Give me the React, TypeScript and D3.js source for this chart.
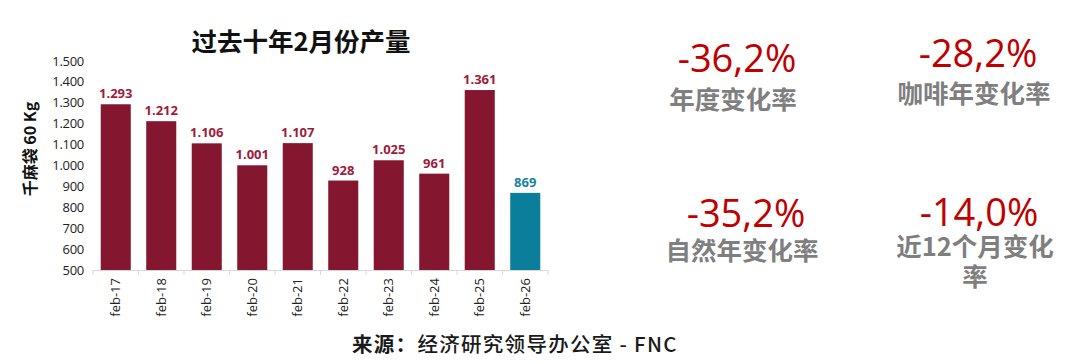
import * as d3 from "d3"

const categories = ["feb-17", "feb-18", "feb-19", "feb-20", "feb-21", "feb-22", "feb-23", "feb-24", "feb-25", "feb-26"]
const production = [1293, 1212, 1106, 1001, 1107, 928, 1025, 961, 1361, 869]
const yTicks = [500, 600, 700, 800, 900, 1000, 1100, 1200, 1300, 1400, 1500]

const statValues = ["-36,2%", "-28,2%", "-35,2%", "-14,0%"]
const statLabels = [["年度变化率"], ["咖啡年变化率"], ["自然年变化率"], ["近12个月变化", "率"]]

const title = "过去十年2月份产量"
const yTitle = "千麻袋 60 Kg"

const maroon = "#851630"
const maroonText = "#a01a3c"
const teal = "#0b7e9b"
const tealText = "#1683a0"

const latin = "'Open Sans', 'Noto Sans CJK SC', sans-serif"
const cjk = "'Noto Sans CJK SC', 'Open Sans', sans-serif"

const fmt = d3.formatLocale({ decimal: ",", thousands: ".", grouping: [3], currency: ["", ""] }).format(",d")

export default function App() {
  const width = 1080
  const height = 364

  const x = d3.scaleBand<string>().domain(categories).range([93, 548]).paddingInner(0.34).paddingOuter(0.17)
  const y = d3.scaleLinear().domain([500, 1500]).range([270, 61])

  const last = categories.length - 1

  // stat blocks: [centerX, valueBaseline, labelBaseline]
  const statPos = [
    [737, 72, 109],
    [978, 67, 103],
    [746, 227, 260],
    [979, 226, 256],
  ]

  return (
    <svg width={width} height={height} style={{ position: "absolute", left: 0, top: 0, background: "#fff" }}>
      <text x={301} y={51} textAnchor="middle" fontFamily={cjk} fontWeight={700} fontSize={25.5} fill="#111">
        {title}
      </text>

      <text
        transform={`translate(36, 149) rotate(-90)`}
        textAnchor="middle"
        fontFamily={cjk}
        fontWeight={700}
        fontSize={16}
        fill="#111"
      >
        {yTitle}
      </text>

      {yTicks.map((t) => (
        <text key={t} x={84} y={y(t) + 4.5} textAnchor="end" fontFamily={latin} fontWeight={500} fontSize={13} fill="#222" letterSpacing={-0.3}>
          {fmt(t)}
        </text>
      ))}

      {categories.map((c, i) => (
        <rect
          key={c}
          x={x(c)}
          y={y(production[i])}
          width={x.bandwidth()}
          height={y(500) - y(production[i])}
          fill={i === last ? teal : maroon}
        />
      ))}

      {categories.map((c, i) => (
        <text
          key={c}
          x={(x(c) ?? 0) + x.bandwidth() / 2}
          y={y(production[i]) - 6}
          textAnchor="middle"
          fontFamily={latin}
          fontWeight={700}
          fontSize={13}
          fill={i === last ? tealText : maroonText}
        >
          {fmt(production[i])}
        </text>
      ))}

      <line x1={93} x2={548} y1={270.5} y2={270.5} stroke="#d9d9d9" />
      {categories.map((c) => (
        <line
          key={c}
          x1={(x(c) ?? 0) - (x.step() - x.bandwidth()) / 2}
          x2={(x(c) ?? 0) - (x.step() - x.bandwidth()) / 2}
          y1={270}
          y2={275}
          stroke="#d9d9d9"
        />
      ))}
      <line x1={548} x2={548} y1={270} y2={275} stroke="#d9d9d9" />

      {categories.map((c) => (
        <text
          key={c}
          transform={`translate(${(x(c) ?? 0) + x.bandwidth() / 2 + 4.5}, 278) rotate(-90)`}
          textAnchor="end"
          fontFamily={latin}
          fontSize={13}
          fill="#222"
        >
          {c}
        </text>
      ))}

      <text x={352} y={352} fontFamily={cjk} fontSize={20.5} fill="#1a1a1a" letterSpacing={1.3}>
        <tspan fontWeight={700}>来源：</tspan>
        <tspan fontWeight={500}>经济研究领导办公室 - FNC</tspan>
      </text>

      {statValues.map((v, i) => (
        <g key={v}>
          <text x={statPos[i][0]} y={statPos[i][1]} textAnchor="middle" fontFamily={latin} fontSize={38} fill="#c00000">
            {v}
          </text>
          {statLabels[i].map((l, j) => (
            <text
              key={l}
              x={statPos[i][0] - 4}
              y={statPos[i][2] + j * 30}
              textAnchor="middle"
              fontFamily={cjk}
              fontWeight={700}
              fontSize={25.5}
              fill="#7f7f7f"
            >
              {l}
            </text>
          ))}
        </g>
      ))}
    </svg>
  )
}
